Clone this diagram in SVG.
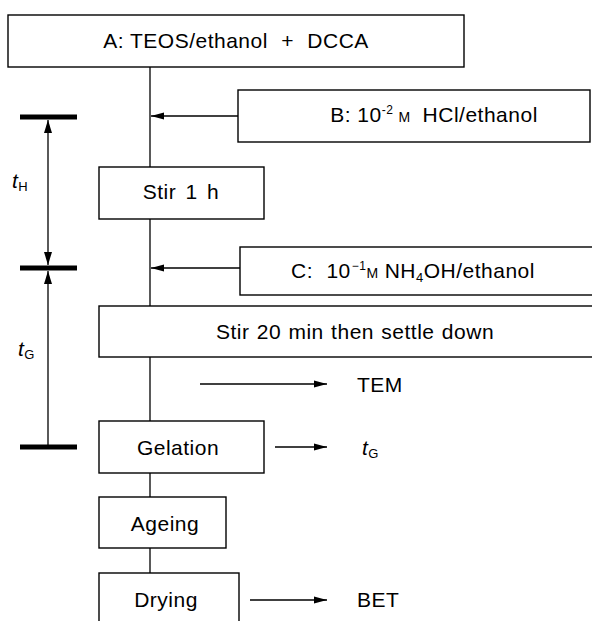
<svg xmlns="http://www.w3.org/2000/svg" width="592" height="621" viewBox="0 0 592 621">
<style>
.box{fill:#fff;stroke:#000;stroke-width:1.4}
.ln{fill:none;stroke:#000;stroke-width:1.3}
.bar{stroke:#000;stroke-width:5}
.t{font-family:"Liberation Sans",Arial,sans-serif;font-size:21px;fill:#000;letter-spacing:0.5px}
.m{text-anchor:middle}
.it{font-style:italic}
.sub{font-size:13px;font-style:normal}
</style>
<defs>
<marker id="ah" markerUnits="userSpaceOnUse" markerWidth="14" markerHeight="8" refX="13" refY="4" orient="auto">
<path d="M0,0.5 L13,4 L0,7.5 z" fill="#000"/>
</marker>
<marker id="ahd" markerUnits="userSpaceOnUse" markerWidth="14" markerHeight="10" refX="13" refY="5" orient="auto">
<path d="M0,1 L13,5 L0,9 z" fill="#000"/>
</marker>
</defs>
<rect width="592" height="621" fill="#fff"/>
<g id="connectors">
<line class="ln" x1="150" y1="67" x2="150" y2="167"/>
<line class="ln" x1="150" y1="219" x2="150" y2="306"/>
<line class="ln" x1="150" y1="357" x2="150" y2="421"/>
<line class="ln" x1="150" y1="473" x2="150" y2="497"/>
<line class="ln" x1="150" y1="548" x2="150" y2="573"/>
<line class="ln" x1="238" y1="116" x2="151" y2="116" marker-end="url(#ah)"/>
<line class="ln" x1="240" y1="268" x2="151" y2="268" marker-end="url(#ah)"/>
<line class="ln" x1="200" y1="384" x2="327" y2="384" marker-end="url(#ah)"/>
<line class="ln" x1="275" y1="447" x2="327" y2="447" marker-end="url(#ah)"/>
<line class="ln" x1="250" y1="600" x2="327" y2="600" marker-end="url(#ah)"/>
</g>
<g id="timescale">
<line class="bar" x1="20" y1="117" x2="77" y2="117"/>
<line class="bar" x1="20" y1="268" x2="77" y2="268"/>
<line class="bar" x1="20" y1="447" x2="77" y2="447"/>
<line class="ln" x1="48" y1="190" x2="48" y2="120" marker-end="url(#ahd)"/>
<line class="ln" x1="48" y1="190" x2="48" y2="265" marker-end="url(#ahd)"/>
<line class="ln" x1="48" y1="447" x2="48" y2="271" marker-end="url(#ahd)"/>
<text class="t it" x="12" y="188">t<tspan class="sub" dy="3">H</tspan></text>
<text class="t it" x="18" y="356">t<tspan class="sub" dy="3">G</tspan></text>
</g>
<g id="nodeA">
<rect class="box" x="8" y="15" width="456" height="52"/>
<text class="t m" x="236" y="48">A: TEOS/ethanol <tspan dx="7">+</tspan><tspan dx="7"> DCCA</tspan></text>
</g>
<g id="nodeB">
<rect class="box" x="238" y="90" width="352" height="52"/>
<text class="t m" x="434" y="122">B: 10<tspan font-size="12" dy="-8">-2</tspan><tspan font-size="14" dy="8" dx="5">M</tspan><tspan dx="12">HCl/ethanol</tspan></text>
</g>
<g id="nodeStir1">
<rect class="box" x="99" y="167" width="165" height="52"/>
<text class="t m" x="181" y="199" word-spacing="3">Stir 1 h</text>
</g>
<g id="nodeC">
<rect class="box" x="240" y="247" width="360" height="48"/>
<text class="t m" x="413" y="278">C: <tspan dx="7">10</tspan><tspan font-size="12" dy="-8" dx="1">−1</tspan><tspan font-size="14" dy="8">M</tspan><tspan dx="6">NH</tspan><tspan font-size="13" dy="4">4</tspan><tspan dy="-4">OH/ethanol</tspan></text>
</g>
<g id="nodeStir20">
<rect class="box" x="99" y="306" width="501" height="51"/>
<text class="t m" x="355" y="339" word-spacing="1">Stir 20 min then settle down</text>
</g>
<g id="nodeTEM">
<text class="t" x="357" y="392">TEM</text>
</g>
<g id="nodeGelation">
<rect class="box" x="99" y="421" width="165" height="52"/>
<text class="t m" x="178" y="455">Gelation</text>
</g>
<g id="nodeTG">
<text class="t it" x="362" y="455">t<tspan class="sub" dy="3">G</tspan></text>
</g>
<g id="nodeAgeing">
<rect class="box" x="99" y="497" width="127" height="51"/>
<text class="t m" x="165" y="531">Ageing</text>
</g>
<g id="nodeDrying">
<rect class="box" x="99" y="573" width="140" height="60"/>
<text class="t m" x="166" y="607">Drying</text>
</g>
<g id="nodeBET">
<text class="t" x="357" y="607">BET</text>
</g>
</svg>
